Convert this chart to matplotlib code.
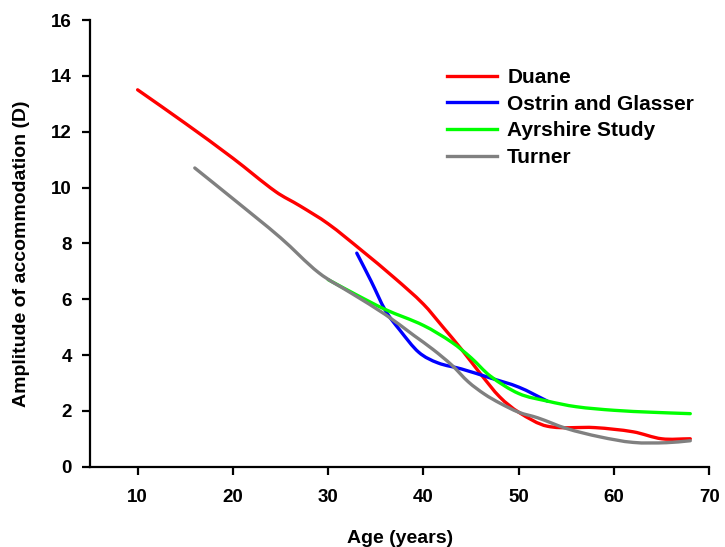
import numpy as np
import matplotlib
matplotlib.use("Agg")
from matplotlib import pyplot as plt
from matplotlib.path import Path
from matplotlib.patches import PathPatch
from matplotlib.lines import Line2D

plt.rcParams['font.family'] = ['Liberation Sans', 'DejaVu Sans']
plt.rcParams['font.weight'] = 'bold'

# Amplitude of accommodation (D) against age (years)
duane_age = [10, 15, 20, 24.5, 27, 30, 33.5, 37, 40, 42, 44, 46, 48, 50, 53, 58, 62,
             65, 68]
duane_amp = [13.5, 12.3, 11.05, 9.85, 9.35, 8.7, 7.75, 6.75, 5.82, 5.02, 4.2, 3.32,
             2.5, 1.95, 1.45, 1.4, 1.25, 1.0, 1.0]

ostrin_age = [33, 34.5, 36, 37.5, 39.5, 41.5, 44, 47, 50, 53]
ostrin_amp = [7.65, 6.65, 5.6, 4.9, 4.1, 3.72, 3.5, 3.18, 2.85, 2.35]

ayrshire_age = [30, 33, 36, 40, 43, 45, 47, 50, 53, 56, 60, 64, 68]
ayrshire_amp = [6.7, 6.15, 5.63, 5.06, 4.45, 3.9, 3.25, 2.62, 2.35, 2.15, 2.02, 1.95, 1.9]

turner_age = [16, 20, 25, 29, 32.5, 36, 39, 41, 43, 44.7, 46.4, 48, 50, 52, 55,
              58.5, 62, 65.5, 68]
turner_amp = [10.7, 9.6, 8.2, 6.95, 6.2, 5.45, 4.7, 4.2, 3.63, 3.04, 2.6, 2.28,
              1.95, 1.75, 1.37, 1.07, 0.87, 0.86, 0.93]

names = ['Duane', 'Ostrin and Glasser', 'Ayrshire Study', 'Turner']
colors = ['#ff0000', '#0000ff', '#00ff00', '#808080']


def smooth_path(xs, ys):
    # cubic hermite pieces through every point, drawn as bezier segments
    x = np.asarray(xs, float)
    y = np.asarray(ys, float)
    m = np.empty_like(y)
    m[1:-1] = (y[2:] - y[:-2]) / (x[2:] - x[:-2])
    m[0] = (y[1] - y[0]) / (x[1] - x[0])
    m[-1] = (y[-1] - y[-2]) / (x[-1] - x[-2])
    verts = [(x[0], y[0])]
    codes = [Path.MOVETO]
    for i in range(len(x) - 1):
        h = (x[i + 1] - x[i]) / 3
        verts += [(x[i] + h, y[i] + m[i] * h),
                  (x[i + 1] - h, y[i + 1] - m[i + 1] * h),
                  (x[i + 1], y[i + 1])]
        codes += [Path.CURVE4] * 3
    return Path(verts, codes)


fig = plt.figure(figsize=(7.25, 5.47), dpi=100)
ax = fig.add_axes([0.1241, 0.1468, 0.8543, 0.8166])

series = [(duane_age, duane_amp), (ostrin_age, ostrin_amp),
          (ayrshire_age, ayrshire_amp), (turner_age, turner_amp)]
handles = []
for (xs, ys), c, n in zip(series, colors, names):
    ax.add_patch(PathPatch(smooth_path(xs, ys), fill=False, edgecolor=c, lw=2.4,
                           capstyle='round', joinstyle='round'))
    handles.append(Line2D([], [], color=c, lw=2.4, label=n))

ax.set_xlim(5, 70)
ax.set_ylim(0, 16)
ax.set_xticks(range(10, 71, 10))
ax.set_yticks(range(0, 17, 2))
for s in ['top', 'right']:
    ax.spines[s].set_visible(False)
for s in ['left', 'bottom']:
    ax.spines[s].set_linewidth(1.6)
ax.tick_params(axis='both', direction='out', length=6, width=1.6, labelsize=13.5)
ax.tick_params(axis='x', pad=10)
ax.tick_params(axis='y', pad=7)

ax.set_xlabel('Age (years)', fontsize=14, fontweight='bold')
ax.set_ylabel('Amplitude of accommodation (D)', fontsize=14, fontweight='bold')
ax.xaxis.set_label_coords(0.5, -0.16)
ax.xaxis.label.set_va('center')
ax.yaxis.set_label_coords(-0.11, 0.476)
ax.yaxis.label.set_va('center')

fig.legend(handles=handles, loc='upper left', bbox_to_anchor=(0.6166, 0.876),
           frameon=False, prop={'size': 15, 'weight': 'bold'}, borderpad=0,
           borderaxespad=0, handlelength=2.38, handletextpad=0.51, labelspacing=0.37)

fig.savefig('out.png', dpi=100)
